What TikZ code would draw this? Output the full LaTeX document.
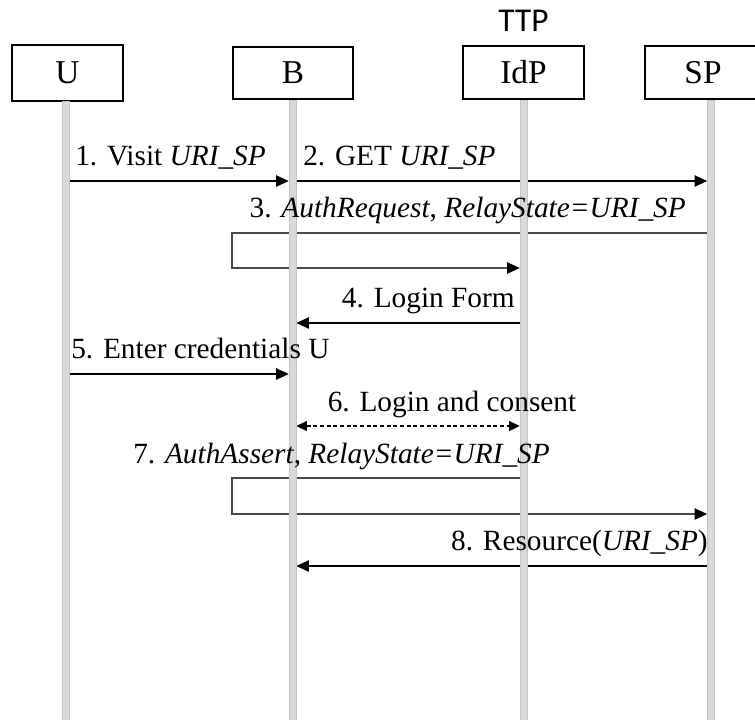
\documentclass[tikz,border=0pt]{standalone}
\usepackage{fontspec}
\setmainfont{Liberation Serif}
\newfontfamily\ttpfont{Carlito}
\usetikzlibrary{arrows.meta}
\definecolor{lifefill}{HTML}{D9D9D9}
\definecolor{lifeedge}{HTML}{C4C4C4}
\definecolor{elbow}{HTML}{4A4A4A}
\pgfdeclarelayer{back}
\pgfsetlayers{back,main}

\tikzset{
  actor/.style={draw, line width=1pt, inner sep=0pt,
    font=\fontsize{25}{30}\selectfont},
  life/.style={rectangle, fill=lifefill, draw=lifeedge, line width=0.4pt,
    minimum width=5.25pt, minimum height=470pt, inner sep=0pt, anchor=north},
  lbl/.style={inner sep=0pt, font=\fontsize{22}{26}\selectfont},
  msg/.style={line width=1pt, -{Triangle[length=9.5pt,width=8.5pt,color=black]}},
  elb/.style={msg, draw=elbow},
  both/.style={line width=0.8pt, dashed, dash pattern=on 3pt off 2pt,
    {Triangle[length=8pt,width=7.5pt]}-{Triangle[length=8pt,width=7.5pt]}},
}

\begin{document}
\begin{tikzpicture}[x=0.75pt,y=-0.75pt]
\path[use as bounding box] (0,0) rectangle (755,719);
\clip (0,0) rectangle (755,719);

% participants
\node[actor, minimum width=83.25pt, minimum height=42pt] (U) at (67.5,73) {U};
\node[actor, minimum width=90pt, minimum height=39pt] (B) at (293,73) {B};
\node[actor, minimum width=90.75pt, minimum height=39.75pt] (IdP) at (523.5,72.5) {IdP};
\node[actor, minimum width=87pt, minimum height=39.75pt] (SP) at (703,72.5) {SP};
\node[font=\ttpfont\fontsize{25}{30}\selectfont, inner sep=0pt, anchor=base] (ttp) at (523.5,31) {TTP};

% lifelines
\node[life] (lU) at (65.5,101) {};
\node[life] (lB) at (292.5,99.5) {};
\node[life] (lI) at (523.5,99.5) {};
\node[life] (lS) at (711,99.5) {};

% messages (under the lifelines)
\begin{pgfonlayer}{back}
\draw[msg] (lU.east |- 0,181) -- (lB.west |- 0,181);
\draw[msg] (lB.east |- 0,181) -- (lS.west |- 0,181);
\coordinate (k3) at (232,233);
\draw[elb] (lS.west |- k3) -- (k3) -- (232,268) -- (lI.west |- 0,268);
\draw[msg] (lI.west |- 0,323) -- (lB.east |- 0,323);
\draw[msg] (lU.east |- 0,374) -- (lB.west |- 0,374);
\draw[both] (lB.east |- 0,426) -- (lI.west |- 0,426);
\coordinate (k7) at (232,478);
\draw[elb] (lI.west |- k7) -- (k7) -- (232,514) -- (lS.west |- 0,514);
\draw[msg] (lS.west |- 0,566) -- (lB.east |- 0,566);
\end{pgfonlayer}

% message labels
\node[lbl, anchor=base west] (m1) at (75,165) {1. Visit \textit{URI\_SP}};
\node[lbl, anchor=base west] (m2) at (303,165) {2. GET \textit{URI\_SP}};
\node[lbl, anchor=base east] (m3) at (686,217) {3. \textit{AuthRequest}, \textit{RelayState=URI\_SP}};
\node[lbl, anchor=base east] (m4) at (515,307) {4. Login Form};
\node[lbl, anchor=base west] (m5) at (71,358) {5. Enter credentials U};
\node[lbl, anchor=base] (m6) at (452,411) {6. Login and consent};
\node[lbl, anchor=base west] (m7) at (133,463) {7. \textit{AuthAssert}, \textit{RelayState=URI\_SP}};
\node[lbl, anchor=base east] (m8) at (708,550) {8. Resource(\textit{URI\_SP})};
\end{tikzpicture}
\end{document}
